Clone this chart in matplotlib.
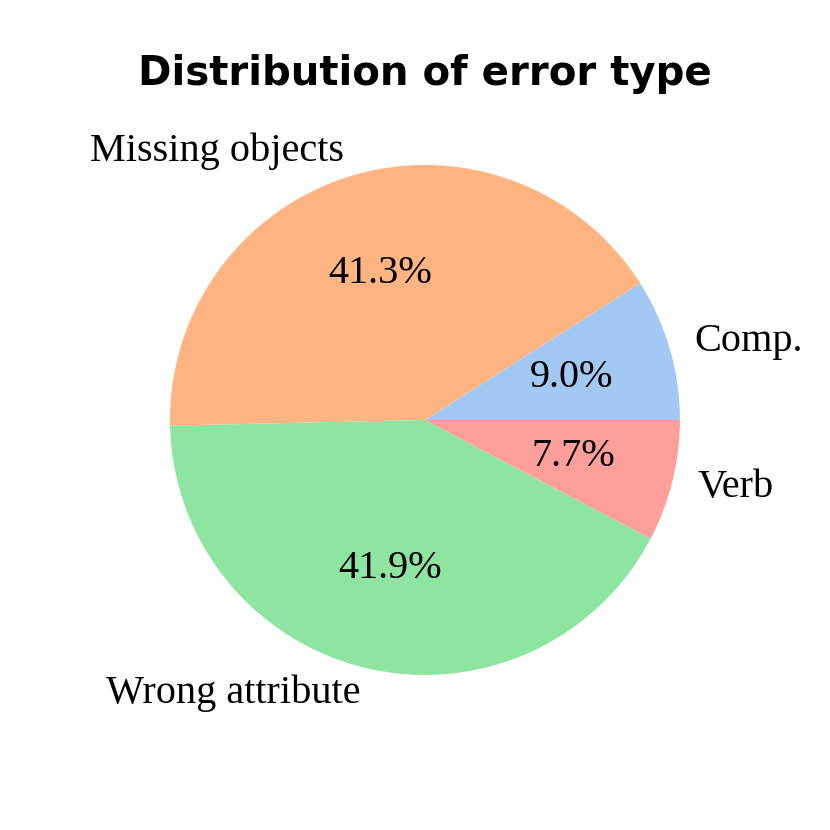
# pie chart of error types, recreated from the reference picture
import matplotlib.pyplot as plt
import seaborn as sns

labels = ['Comp.', 'Missing objects', 'Wrong attribute', 'Verb']
shares = [9.0, 41.3, 41.9, 7.7]
colors = sns.color_palette('pastel')[:4]

plt.rcParams['font.family'] = ['Liberation Serif', 'DejaVu Serif']

fig = plt.figure(figsize=(8.3, 8.3), dpi=100)
ax = fig.add_axes([0.128, 0.110, 0.768, 0.768])
ax.pie(shares, labels=labels, colors=colors, autopct='%1.1f%%',
       startangle=0, textprops={'fontsize': 29})
ax.set_title('Distribution of error type', fontsize=29, fontweight='bold',
             family='DejaVu Sans', pad=12)
plt.savefig('out.png', dpi=100)
